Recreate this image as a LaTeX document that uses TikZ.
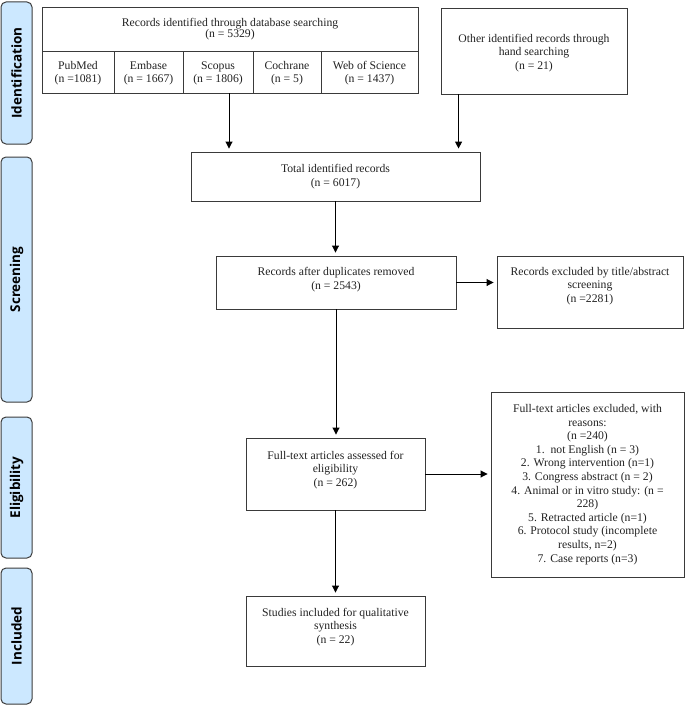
\documentclass[tikz,border=0pt]{standalone}
\usepackage{fontspec}
\setmainfont{Liberation Serif}
\newfontfamily\phasefont{Open Sans}
\usetikzlibrary{arrows.meta}
\definecolor{boxline}{HTML}{3A3A3A}
\definecolor{txtcol}{HTML}{222222}
\definecolor{phasefill}{HTML}{CCE8FF}
\definecolor{phaseline}{HTML}{3C3C3C}
\newcommand\liftedtext[2]{\raisebox{#1}[\height][\depth]{\begin{tabular}{@{}c@{}}#2\end{tabular}}}
\begin{document}
\begin{tikzpicture}[x=1pt,y=-1pt,
  box/.style={draw=boxline, line width=0.9pt, align=center, inner sep=0pt, text=txtcol,
    font=\fontsize{11.7}{13.5}\selectfont},
  phase/.style={draw=phaseline, fill=phasefill, line width=1pt, rounded corners=5pt,
    inner sep=0pt, rotate=90, text=black, font=\phasefont\bfseries\fontsize{13.5}{16}\selectfont},
  arr/.style={draw=black, line width=0.9pt, -{Triangle[width=7pt,length=7pt]}, shorten >=3pt}]

\useasboundingbox (0,0) rectangle (685,706);

% phase labels
\node[phase, minimum width=142pt, minimum height=31pt] (pid) at (16.5,73) {Identification};
\node[phase, minimum width=245pt, minimum height=31pt] (psc) at (16.5,279.5) {Screening};
\node[phase, minimum width=141pt, minimum height=31pt] (pel) at (16.5,487.5) {Eligibility};
\node[phase, minimum width=136pt, minimum height=31pt] (pin) at (16.5,636) {Included};

% identification
\node[box, minimum width=376pt, minimum height=44pt, font=\fontsize{11.7}{11.5}\selectfont] (db) at (230,29)
  {Records identified through database searching\\(n = 5329)};
\node[box, minimum width=72pt, minimum height=42pt] (pubmed) at (78,72) {\liftedtext{-1.5pt}{PubMed\\(n =1081)}};
\node[box, minimum width=69pt, minimum height=42pt] (embase) at (148.5,72) {\liftedtext{-1.5pt}{Embase\\(n = 1667)}};
\node[box, minimum width=70pt, minimum height=42pt] (scopus) at (218,72) {\liftedtext{-1.5pt}{Scopus\\(n = 1806)}};
\node[box, minimum width=68pt, minimum height=42pt] (cochrane) at (287,72) {\liftedtext{-1.5pt}{Cochrane\\(n = 5)}};
\node[box, minimum width=97pt, minimum height=42pt] (wos) at (369.5,72) {\liftedtext{-1.5pt}{Web of Science\\(n = 1437)}};
\node[box, minimum width=186pt, minimum height=86pt] (other) at (534,51)
  {\liftedtext{-2pt}{Other identified records through\\hand searching\\(n = 21)}};

% screening
\node[box, minimum width=289pt, minimum height=49pt] (total) at (335.5,176.5)
  {Total identified records\\(n = 6017)};
\node[box, minimum width=240pt, minimum height=53pt] (dup) at (336,282.5)
  {\liftedtext{2.5pt}{Records after duplicates removed\\(n = 2543)}};
\node[box, minimum width=186pt, minimum height=72pt] (excl1) at (590,292)
  {\liftedtext{6pt}{Records excluded by title/abstract\\screening\\(n =2281)}};

% eligibility
\node[box, minimum width=179pt, minimum height=72pt] (ft) at (335.5,474)
  {\liftedtext{4pt}{Full-text articles assessed for\\eligibility\\(n = 262)}};
\node[box, minimum width=193pt, minimum height=185pt, font=\fontsize{11.7}{13.6}\selectfont] (excl2) at (587.5,484.5)
  {Full-text articles excluded, with\\reasons:\\(n =240)\\1.\ \ not English (n = 3)\\2. Wrong intervention (n=1)\\3. Congress abstract (n = 2)\\4. Animal or in vitro study: (n =\\228)\\5. Retracted article (n=1)\\6. Protocol study (incomplete\\results, n=2)\\7. Case reports (n=3)};

% included
\node[box, minimum width=179pt, minimum height=70pt] (studies) at (335.5,631)
  {\liftedtext{4pt}{Studies included for qualitative\\synthesis\\(n = 22)}};

% connectors
\coordinate (s1) at ([xshift=11pt]scopus.south);
\coordinate (o1) at ([xshift=18pt]other.south west);
\draw[arr] (s1) -- (s1 |- total.north);
\draw[arr] (o1) -- (o1 |- total.north);
\draw[arr] (total.south) -- (total.south |- dup.north);
\draw[arr] (dup.east) -- (dup.east -| excl1.west);
\draw[arr] (dup.south) -- (dup.south |- ft.north);
\draw[arr] (ft.east) -- (ft.east -| excl2.west);
\draw[arr] (ft.south) -- (ft.south |- studies.north);
\end{tikzpicture}
\end{document}
